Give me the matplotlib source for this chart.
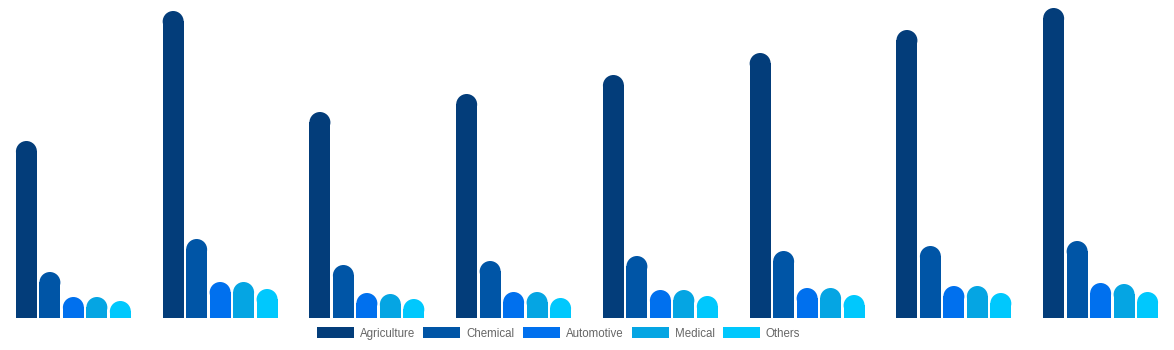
import numpy as np
import matplotlib
matplotlib.use("Agg")
from matplotlib import pyplot as plt
from matplotlib.patches import Ellipse

plt.rcParams['font.family'] = ['Liberation Sans', 'DejaVu Sans']

series = ["Agriculture", "Chemical", "Automotive", "Medical", "Others"]
colors = ["#033d7a", "#0055a6", "#0070ee", "#05a5e3", "#00c8fd"]

agriculture = [177, 307, 206, 224, 243, 265, 288, 310]
chemical = [46, 79, 53, 57, 62, 67, 72, 77]
automotive = [21, 36, 25, 26, 28, 30, 32, 35]
medical = [21, 36, 24, 26, 28, 30, 32, 34]
others = [17, 29, 19, 20, 22, 23, 25, 26]

values = [agriculture, chemical, automotive, medical, others]
n_groups = len(agriculture)

W, H = 1174, 350
fig = plt.figure(figsize=(W / 100, H / 100), dpi=100)
ax = fig.add_axes([0, 32 / H, 1, 318 / H])
ax.set_xlim(-0.5, n_groups - 0.5)
ax.set_ylim(0, 318)
ax.axis("off")

x = np.arange(n_groups)
pitch = 0.16
width = 0.143
# rounded top: half the bar width, converted from pixels to y data units
px_per_x = W / n_groups
ry = width * px_per_x / 2

for i, (name, vals) in enumerate(zip(series, values)):
    xs = x + (i - 2) * pitch
    hs = np.array(vals) - ry
    ax.bar(xs, hs, width, color=colors[i], label=name, linewidth=0)
    for xc, h in zip(xs, hs):
        ax.add_patch(Ellipse((xc, h), width, 2 * ry, color=colors[i], linewidth=0))

fig.legend(loc="center", bbox_to_anchor=(558.5 / W, 16.5 / H), ncol=5, frameon=False,
           handlelength=3.2, handleheight=1.05, handletextpad=0.53,
           columnspacing=0.72, fontsize=8.3, labelcolor="#666666",
           borderpad=0, borderaxespad=0)

fig.savefig("out.png", dpi=100)
